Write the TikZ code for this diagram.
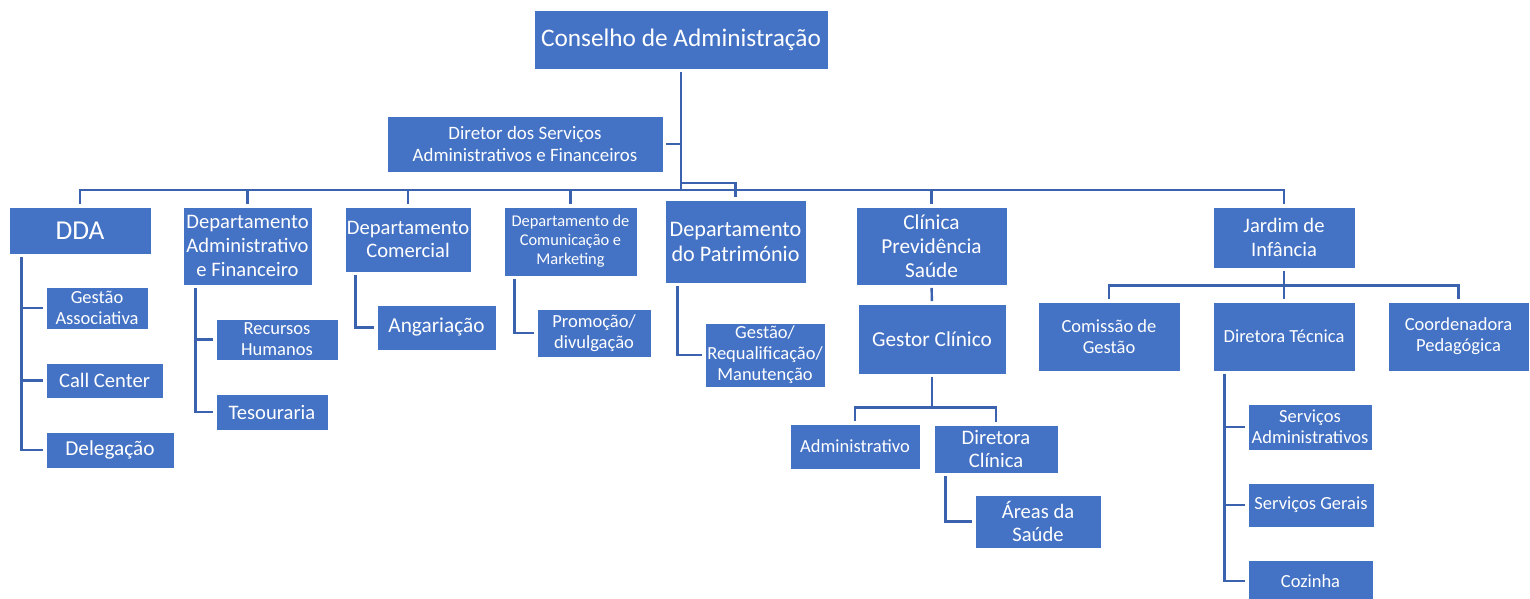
\documentclass[tikz,border=0pt]{standalone}
\usepackage{fontspec}
\setmainfont{Carlito}
\definecolor{boxblue}{HTML}{4472C4}
\definecolor{linkblue}{HTML}{3A62AE}

\begin{document}
\begin{tikzpicture}[x=1pt,y=-1pt,
	unit/.style={draw=white, line width=0.8pt, fill=boxblue, text=white, align=center, inner sep=0pt},
	sz/.style 2 args={minimum width=#1pt, minimum height=#2pt},
	link/.style={draw=linkblue, line width=2.4pt, shorten <=2.5pt, shorten >=2.5pt},
	t16/.style={font=\fontsize{16.4}{18.8}\selectfont},
	t18/.style={font=\fontsize{18.5}{21}\selectfont},
	t19/.style={font=\fontsize{18.9}{21.8}\selectfont},
	t20/.style={font=\fontsize{20.6}{23.6}\selectfont},
	t21/.style={font=\fontsize{21.3}{24.3}\selectfont},
	t22/.style={font=\fontsize{22.2}{25}\selectfont},
	t25/.style={font=\fontsize{25.3}{29}\selectfont},
	t27/.style={font=\fontsize{27.3}{31}\selectfont}]
	\useasboundingbox (0,0) rectangle (1530,599);
	% top
	\node[unit, sz={294}{59}, t25] (conselho) at (681,39.5) {Conselho de Administração};
	\node[unit, sz={276}{56}, t19] (diretor) at (525,144) {Diretor dos Serviços\\Administrativos e Financeiros};
	\coordinate (bus) at (681,190);
	\coordinate (pbend) at (681,183);
	% departamentos
	\node[unit, sz={142}{47}, t27] (dda) at (80,230.5) {DDA};
	\node[unit, sz={129}{78}, t20] (admfin) at (247.5,246) {Departamento\\Administrativo\\e Financeiro};
	\node[unit, sz={126}{65}, t20] (comercial) at (408,239.5) {Departamento\\Comercial};
	\node[unit, sz={133}{69}, t16] (comunic) at (570.5,241.5) {Departamento de\\Comunicação e\\Marketing};
	\node[unit, sz={141}{83}, t22] (patrim) at (735.5,241.5) {Departamento\\do Património};
	\node[unit, sz={151}{78}, t21] (clinica) at (931.5,246) {Clínica\\Previdência\\Saúde};
	\node[unit, sz={142}{61}, t20] (jardim) at (1284,237.5) {Jardim de\\Infância};
	% DDA
	\node[unit, sz={102}{42}, t18] (gestao) at (97,308) {Gestão\\Associativa};
	\node[unit, sz={117}{35}, t20] (callc) at (104.5,380.5) {Call Center};
	\node[unit, sz={128}{36}, t21] (deleg) at (110,450) {Delegação};
	% administrativo e financeiro
	\node[unit, sz={122}{41}, t18] (rh) at (277,339.5) {Recursos\\Humanos};
	\node[unit, sz={112}{36}, t20] (tesour) at (272,412) {Tesouraria};
	% comercial, comunicacao, patrimonio
	\node[unit, sz={119}{45}, t21] (angar) at (436.5,327.5) {Angariação};
	\node[unit, sz={114}{48}, t18] (promo) at (594,333) {Promoção/\\divulgação};
	\node[unit, sz={120}{64}, t18] (requal) at (765,355) {Gestão/\\Requalificação/\\Manutenção};
	% clinica
	\node[unit, sz={148}{70}, t21] (gestor) at (932,339) {Gestor Clínico};
	\node[unit, sz={130}{45}, t18] (admin) at (855,446.5) {Administrativo};
	\node[unit, sz={124}{48}, t20] (dirclin) at (996,449) {Diretora\\Clínica};
	\node[unit, sz={126}{53}, t20] (areas) at (1038,521.5) {Áreas da\\Saúde};
	% jardim de infancia
	\node[unit, sz={142}{69}, t18] (comissao) at (1109,336.5) {Comissão de\\Gestão};
	\node[unit, sz={142}{69}, t18] (dirtec) at (1284,336.5) {Diretora Técnica};
	\node[unit, sz={141}{69}, t18] (coord) at (1458.5,336.5) {Coordenadora\\Pedagógica};
	\node[unit, sz={124}{46}, t18] (servadm) at (1310,427) {Serviços\\Administrativos};
	\node[unit, sz={126}{44}, t18] (servger) at (1311,505) {Serviços Gerais};
	\node[unit, sz={125}{42}, t18] (cozinha) at (1310.5,581) {Cozinha};

	% ligacoes
	\draw[link, shorten >=0pt] (conselho.south) -- (bus);
	\draw[link, shorten >=0pt] (diretor.east) -- (diretor.east -| bus);
	\draw[link] (dda.north) |- (jardim.north |- bus) -- (jardim.north);
	\foreach \d in {admfin,comercial,comunic,clinica}
		\draw[link, shorten >=0pt] (\d.north) -- (\d.north |- bus);
	\draw[link, shorten <=0pt] (pbend) -| (patrim.north);

	\foreach \c in {gestao,callc,deleg}
		\draw[link] ([xshift=13pt]dda.south west) |- (\c.west);
	\foreach \c in {rh,tesour}
		\draw[link] ([xshift=13pt]admfin.south west) |- (\c.west);
	\draw[link] ([xshift=11pt]comercial.south west) |- (angar.west);
	\draw[link] ([xshift=11pt]comunic.south west) |- (promo.west);
	\draw[link] ([xshift=13pt]patrim.south west) |- (requal.west);

	\draw[link] (clinica.south) -- (gestor.north);
	\draw[link] (gestor.south) -- ++(0,33) -| (admin.north);
	\draw[link] (gestor.south) -- ++(0,33) -| (dirclin.north);
	\draw[link] ([xshift=12pt]dirclin.south west) |- (areas.west);

	\draw[link] (jardim.south) -- ++(0,17) -| (comissao.north);
	\draw[link] (jardim.south) -- ++(0,17) -| (coord.north);
	\draw[link] (jardim.south) -- (dirtec.north);
	\foreach \c in {servadm,servger,cozinha}
		\draw[link] ([xshift=12pt]dirtec.south west) |- (\c.west);
\end{tikzpicture}
\end{document}
